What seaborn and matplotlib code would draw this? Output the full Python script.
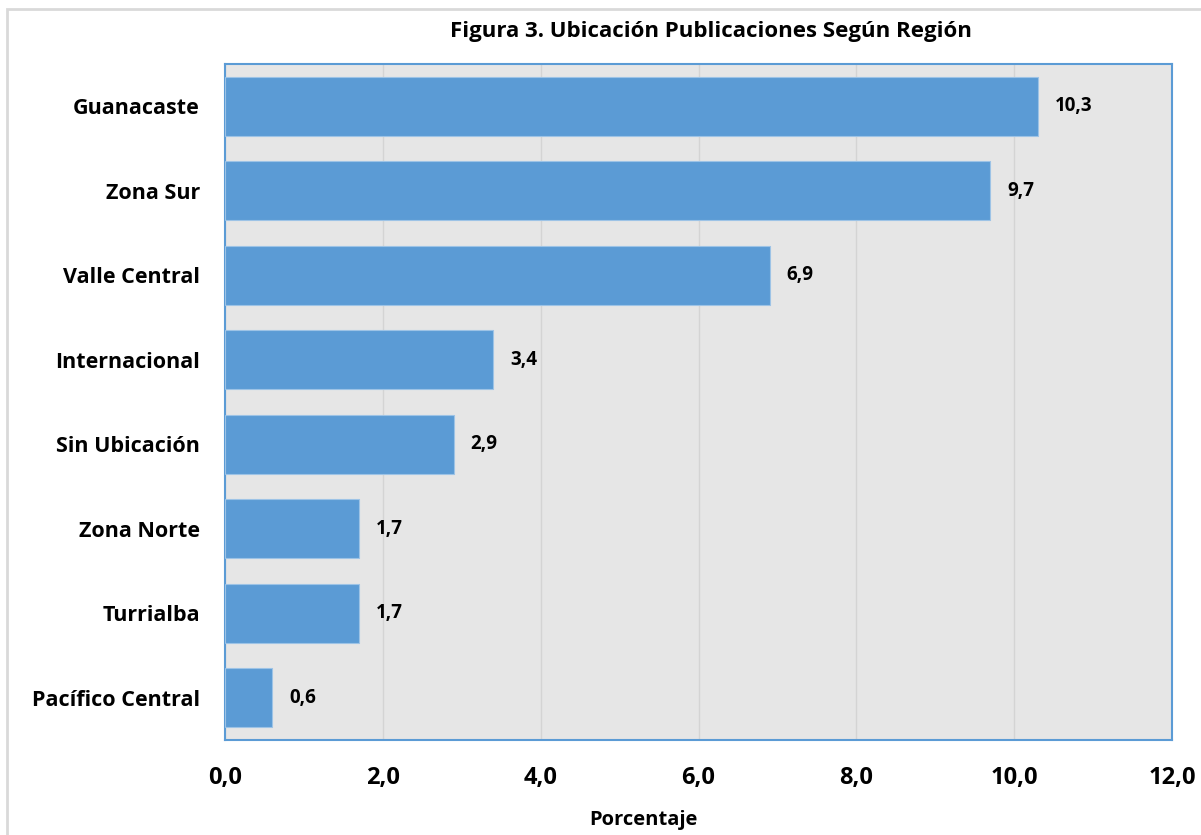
import pandas as pd
import seaborn as sns
import matplotlib.pyplot as plt
from matplotlib.patches import Rectangle

regions = ['Guanacaste', 'Zona Sur', 'Valle Central', 'Internacional',
           'Sin Ubicación', 'Zona Norte', 'Turrialba', 'Pacífico Central']
pct = [10.3, 9.7, 6.9, 3.4, 2.9, 1.7, 1.7, 0.6]
xticks = [0, 2, 4, 6, 8, 10, 12]

df = pd.DataFrame({'region': regions, 'pct': pct})

sns.set_style('white')
plt.rcParams['font.family'] = ['Open Sans', 'DejaVu Sans']
plt.rcParams['text.color'] = 'black'
plt.rcParams['xtick.color'] = 'black'
plt.rcParams['ytick.color'] = 'black'
plt.rcParams['axes.labelcolor'] = 'black'

fig = plt.figure(figsize=(12.01, 8.35), dpi=100)
ax = fig.add_axes([225 / 1201, 1 - 740 / 835, (1172 - 225) / 1201, (740 - 64) / 835])

sns.barplot(data=df, x='pct', y='region', orient='h', color='#5B9BD5',
            saturation=1, width=0.7, edgecolor='#9DC3E6', linewidth=0.8, ax=ax, zorder=3)

ax.set_facecolor('#E6E6E6')
ax.set_xlim(0, 12)
ax.set_xticks(xticks)
ax.set_xticklabels([f'{t:.1f}'.replace('.', ',') for t in xticks],
                   fontsize=17, fontweight='bold')
ax.xaxis.grid(True, color='#D4D4D4', linewidth=1, zorder=0)
ax.set_axisbelow(True)
ax.tick_params(axis='x', length=0, pad=19)
ax.tick_params(axis='y', length=0, pad=18)
for lbl in ax.get_yticklabels():
    lbl.set_fontsize(15.5)
    lbl.set_fontweight('bold')
for s in ax.spines.values():
    s.set_color('#5B9BD5')
    s.set_linewidth(1.5)

for i, v in enumerate(pct):
    ax.annotate(f'{v:.1f}'.replace('.', ','), (v, i), xytext=(12, 0),
                textcoords='offset points', va='center', ha='left',
                fontsize=13.5, fontweight='bold')

ax.set_ylabel('')
ax.set_xlabel('Porcentaje', fontsize=14.5, fontweight='bold', va='center')
ax.xaxis.set_label_coords((643 - 225) / 947, -80 / 676)

fig.text(711 / 1201, 1 - 31 / 835, 'Figura 3. Ubicación Publicaciones Según Región',
         ha='center', va='center', fontsize=16, fontweight='bold')

fig.patches.append(Rectangle((7 / 1201, -0.05), 1.2, 1 - 9 / 835 + 0.05,
                             transform=fig.transFigure, fill=False,
                             edgecolor='#D9D9D9', linewidth=2))

fig.savefig('out.png', dpi=100)
